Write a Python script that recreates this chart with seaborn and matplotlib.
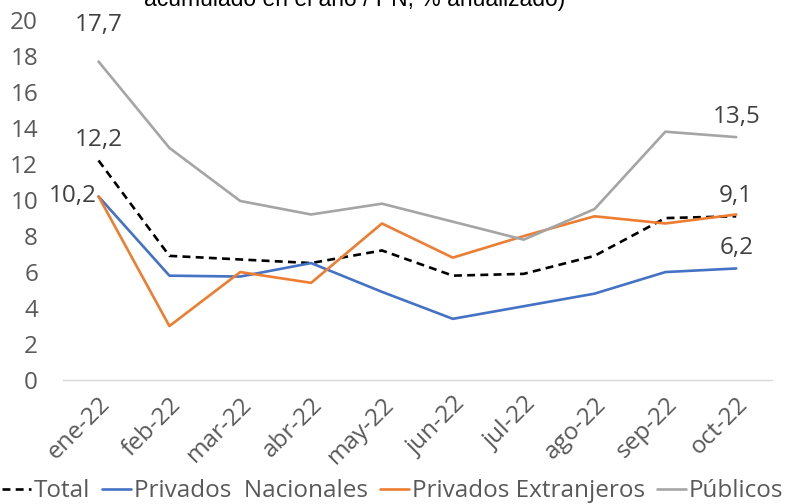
import matplotlib
matplotlib.use("Agg")
import matplotlib.pyplot as plt
import seaborn as sns
import pandas as pd

# datos
meses = ["ene-22", "feb-22", "mar-22", "abr-22", "may-22",
         "jun-22", "jul-22", "ago-22", "sep-22", "oct-22"]
total = [12.2, 6.9, 6.7, 6.5, 7.2, 5.8, 5.9, 6.9, 9.0, 9.1]
priv_nac = [10.2, 5.8, 5.75, 6.5, 4.9, 3.4, 4.1, 4.8, 6.0, 6.2]
priv_ext = [10.2, 3.0, 6.0, 5.4, 8.7, 6.8, 8.0, 9.1, 8.7, 9.2]
publicos = [17.7, 12.9, 9.95, 9.2, 9.8, 8.8, 7.8, 9.5, 13.8, 13.5]

series = {
    "Total": total,
    "Privados  Nacionales": priv_nac,
    "Privados Extranjeros": priv_ext,
    "Públicos": publicos,
}
colores = {
    "Total": "black",
    "Privados  Nacionales": "#4472C4",
    "Privados Extranjeros": "#ED7D31",
    "Públicos": "#A5A5A5",
}

sns.set_style("white")
plt.rcParams["font.family"] = ["Open Sans", "DejaVu Sans"]

fig = plt.figure(figsize=(7.89, 5.04), dpi=100)
ax = fig.add_axes([0.080, 0.246, 0.898, 0.714])

for nombre, vals in series.items():
    df = pd.DataFrame({"mes": meses, "valor": vals})
    sns.lineplot(data=df, x="mes", y="valor", ax=ax, color=colores[nombre],
                 linewidth=1.9, label=nombre, sort=False)
    if nombre == "Total":
        ax.lines[-1].set_dashes((3, 2))

ax.set_xlim(-0.5, len(meses) - 0.5)
ax.set_ylim(0, 20)
ax.set_yticks(range(0, 21, 2))
ax.set_xlabel("")
ax.set_ylabel("")

for s in ["top", "right", "left"]:
    ax.spines[s].set_visible(False)
ax.spines["bottom"].set_color("#D9D9D9")
ax.spines["bottom"].set_linewidth(1)

ax.set_xticks(range(len(meses)))
ax.set_xticklabels(meses, rotation=45, ha="right", rotation_mode="anchor")
ax.set_xticks([i - 0.5 for i in range(len(meses) + 1)], minor=True)
ax.tick_params(axis="x", which="major", length=0, labelsize=17.5,
               labelcolor="#595959", pad=9)
ax.tick_params(axis="x", which="minor", length=7, color="#D9D9D9", width=1)
ax.tick_params(axis="y", length=0, labelsize=17.5, labelcolor="#595959", pad=18)

# etiquetas de datos
etiq = dict(fontsize=17.5, color="#404040")
ax.annotate("17,7", (0, publicos[0]), xytext=(0, 18), textcoords="offset points",
            ha="center", va="bottom", **etiq)
ax.annotate("12,2", (0, total[0]), xytext=(0, 6), textcoords="offset points",
            ha="center", va="bottom", **etiq)
ax.annotate("10,2", (0, priv_nac[0]), xytext=(-1, 0), textcoords="offset points",
            ha="right", va="center", **etiq)
ax.annotate("13,5", (9, publicos[-1]), xytext=(0, 6), textcoords="offset points",
            ha="center", va="bottom", **etiq)
ax.annotate("9,1", (9, total[-1]), xytext=(0, 6), textcoords="offset points",
            ha="center", va="bottom", **etiq)
ax.annotate("6,2", (9, priv_nac[-1]), xytext=(0, 6), textcoords="offset points",
            ha="center", va="bottom", **etiq)

# titulo cortado arriba
fig.text(0.449, 0.989, "acumulado en el año / PN, % anualizado)",
         ha="center", va="baseline", fontsize=16.5, color="black",
         family="Liberation Sans")

ax.legend(loc="lower center", bbox_to_anchor=(0.465, -0.37), ncol=4,
          frameon=False, fontsize=17.5, handlelength=1.2, handletextpad=0.1,
          columnspacing=0.5, labelcolor="#595959", borderaxespad=0)

fig.savefig("out.png", dpi=100)
